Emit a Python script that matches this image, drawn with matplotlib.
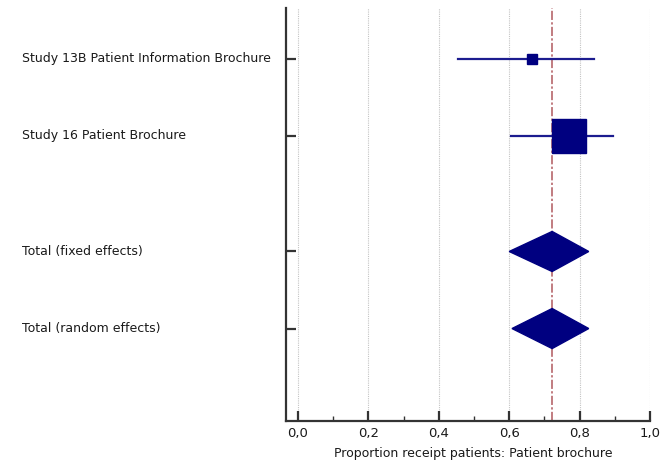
import matplotlib
matplotlib.use('Agg')
import matplotlib.pyplot as plt
from matplotlib.patches import Polygon
from matplotlib.ticker import MultipleLocator, FuncFormatter
import matplotlib.transforms as mtransforms

# study rows
studies = ["Study 13B Patient Information Brochure", "Study 16 Patient Brochure"]
study_est = [0.666, 0.769]
study_lo = [0.456, 0.606]
study_hi = [0.840, 0.894]
study_msize = [6.5, 24]   # marker size (pt), follows the weight

# pooled rows
pooled = ["Total (fixed effects)", "Total (random effects)"]
pooled_est = [0.722, 0.722]
pooled_lo = [0.600, 0.608]
pooled_hi = [0.826, 0.826]

row_study = [0, 1]
row_pooled = [2.5, 3.5]

navy = "#000080"
txt = "#1a1a1a"

fig = plt.figure(figsize=(6.71, 4.61), dpi=100)
ax = fig.add_axes([286/671, 1 - 421/461, (650 - 286)/671, (421 - 8)/461])

ax.set_xlim(-0.034, 1.0)
ax.set_ylim(4.70, -0.66)

ax.grid(axis='x', color='#c4c4c4', linestyle=(0, (1, 1)), linewidth=0.8)
ax.set_axisbelow(True)

ax.axvline(pooled_est[0], color='#b0585e', linestyle=(0, (6, 1.5, 1.5, 1.5)),
           linewidth=1.1, zorder=2)

for y, e, lo, hi, ms in zip(row_study, study_est, study_lo, study_hi, study_msize):
    ax.plot([lo, hi], [y, y], color='#1c1c8f', linewidth=1.6, zorder=3)
    ax.plot([e], [y], marker='s', color=navy, markersize=ms, linestyle='none', zorder=4)

h = 0.26
for y, e, lo, hi in zip(row_pooled, pooled_est, pooled_lo, pooled_hi):
    ax.add_patch(Polygon([(lo, y), (e, y - h), (hi, y), (e, y + h)],
                         closed=True, facecolor=navy, edgecolor=navy, zorder=4))

for s in ['top', 'right']:
    ax.spines[s].set_visible(False)
for s in ['left', 'bottom']:
    ax.spines[s].set_color('#333333')
    ax.spines[s].set_linewidth(1.6)

ax.xaxis.set_major_locator(MultipleLocator(0.2))
ax.xaxis.set_minor_locator(MultipleLocator(0.1))
ax.xaxis.set_major_formatter(FuncFormatter(lambda v, p: f"{v:.1f}".replace('.', ',')))
ax.tick_params(axis='x', which='major', direction='in', length=7.5, width=1.6,
               color='#333333', labelsize=9.5, labelcolor=txt, pad=4)
ax.tick_params(axis='x', which='minor', direction='in', length=3.5, width=1.0,
               color='#333333')

ax.set_yticks(row_study + row_pooled)
ax.set_yticklabels([])
ax.tick_params(axis='y', direction='in', length=7.5, width=1.6, color='#333333')

trans = mtransforms.blended_transform_factory(fig.transFigure, ax.transData)
for y, lab in zip(row_study + row_pooled, studies + pooled):
    ax.text(22/671, y, lab, transform=trans, ha='left', va='center',
            fontsize=9, color=txt)

ax.set_xlabel("Proportion receipt patients: Patient brochure", fontsize=9,
              color=txt, labelpad=5)
ax.xaxis.label.set_x((473 - 286)/(650 - 286))

fig.savefig("out.png", dpi=100)
